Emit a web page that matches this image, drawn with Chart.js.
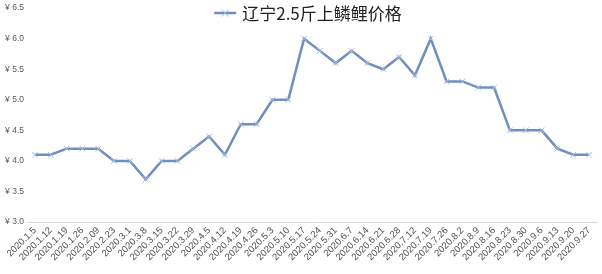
<!DOCTYPE html>
<html>
<head>
<meta charset="utf-8">
<script src="https://cdn.jsdelivr.net/npm/chart.js@4.4.1/dist/chart.umd.min.js"></script>
<style>
  html, body { margin: 0; padding: 0; background: #fff; }
  #wrap { width: 602px; height: 274px; }
</style>
</head>
<body>
<div id="wrap"><canvas id="chart" width="602" height="274"></canvas></div>
<script>
// 日付ラベル
const dates = [
  '2020.1.5', '2020.1.12', '2020.1.19', '2020.1.26', '2020.2.09', '2020.2.23',
  '2020.3.1', '2020.3.8', '2020.3.15', '2020.3.22', '2020.3.29', '2020.4.5',
  '2020.4.12', '2020.4.19', '2020.4.26', '2020.5.3', '2020.5.10', '2020.5.17',
  '2020.5.24', '2020.5.31', '2020.6.7', '2020.6.14', '2020.6.21', '2020.6.28',
  '2020.7.12', '2020.7.19', '2020.7.26', '2020.8.2', '2020.8.9', '2020.8.16',
  '2020.8.23', '2020.8.30', '2020.9.6', '2020.9.13', '2020.9.20', '2020.9.27'
];

// 価格
const prices = [
  4.1, 4.1, 4.2, 4.2, 4.2, 4.0,
  4.0, 3.7, 4.0, 4.0, 4.2, 4.4,
  4.1, 4.6, 4.6, 5.0, 5.0, 6.0,
  5.8, 5.6, 5.8, 5.6, 5.5, 5.7,
  5.4, 6.0, 5.3, 5.3, 5.2, 5.2,
  4.5, 4.5, 4.5, 4.2, 4.1, 4.1
];

const seriesName = '辽宁2.5斤上鳞鲤价格';
const yMin = 3.0;
const yMax = 6.5;
const yStep = 0.5;

const lineColor = '#6f8fbf';
const markColor = '#a9bcd8';

// 凡例を上部中央に描く（線 + × + 名前）
const topLegend = {
  id: 'topLegend',
  afterDraw(chart) {
    const g = chart.ctx;
    g.save();
    g.font = '17px "Noto Sans CJK SC", sans-serif';
    const tw = g.measureText(seriesName).width;
    const iconW = 22;
    const total = iconW + 6 + tw;
    const x0 = 308 - total / 2;
    const y = 13;
    g.strokeStyle = lineColor;
    g.lineWidth = 2.5;
    g.beginPath(); g.moveTo(x0, y); g.lineTo(x0 + iconW, y); g.stroke();
    g.strokeStyle = markColor;
    g.lineWidth = 1;
    const cx = x0 + iconW / 2;
    g.beginPath();
    g.moveTo(cx - 3.5, y - 3.5); g.lineTo(cx + 3.5, y + 3.5);
    g.moveTo(cx + 3.5, y - 3.5); g.lineTo(cx - 3.5, y + 3.5);
    g.stroke();
    g.fillStyle = '#222';
    g.textBaseline = 'middle';
    g.fillText(seriesName, x0 + iconW + 6, y + 1);
    g.restore();
  }
};

const ctx = document.getElementById('chart').getContext('2d');
const chart = new Chart(ctx, {
  type: 'line',
  data: {
    labels: dates,
    datasets: [{
      label: seriesName,
      data: prices,
      borderColor: lineColor,
      borderWidth: 2.5,
      pointStyle: 'crossRot',
      pointRadius: 4,
      pointBorderColor: markColor,
      pointBorderWidth: 1,
      tension: 0
    }]
  },
  options: {
    responsive: false,
    animation: false,
    layout: { padding: { top: 0, right: 2, left: 0, bottom: 0 } },
    plugins: {
      tooltip: { enabled: false },
      legend: { display: false }
    },
    scales: {
      x: {
        offset: true,
        grid: { display: false, drawTicks: false },
        border: { display: true, color: '#d9d9d9', width: 1 },
        afterFit: s => { s.height = 52; },
        ticks: {
          autoSkip: false,
          minRotation: 45,
          maxRotation: 45,
          color: '#505050',
          padding: 3,
          font: { family: '"Liberation Sans", sans-serif', size: 9.5 }
        }
      },
      y: {
        min: yMin,
        max: yMax,
        grid: { display: false, drawTicks: false },
        border: { display: false },
        afterFit: s => { s.width = 27; },
        ticks: {
          stepSize: yStep,
          color: '#595959',
          padding: 3,
          font: { family: '"Liberation Sans", sans-serif', size: 8.5 },
          callback: v => '¥ ' + v.toFixed(1)
        }
      }
    }
  },
  plugins: [topLegend]
});
</script>
</body>
</html>
